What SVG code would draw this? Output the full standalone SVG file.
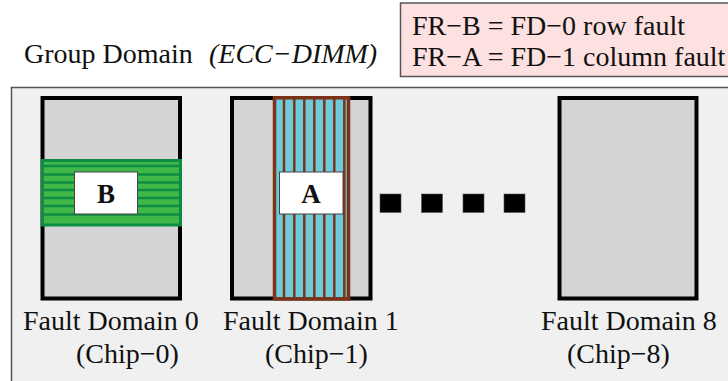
<svg xmlns="http://www.w3.org/2000/svg" width="728" height="381" viewBox="0 0 728 381">
<style>
  text { font-family: "Liberation Serif", "Times New Roman", serif; font-size: 28px; fill: #111; }
  .chip { fill: #d4d4d6; stroke: #000; stroke-width: 4; }
  .lbl { fill: #fff; stroke: #444; stroke-width: 1; }
  .letter { font-weight: bold; font-size: 27px; text-anchor: middle; }
  .dot { fill: #000; stroke: #555; stroke-width: 0.6; }
  .gl { stroke: #0c8d42; stroke-width: 2.5; }
  .bl { stroke: #7c3318; stroke-width: 2.5; }
</style>
<g id="legend">
  <rect x="400.5" y="3" width="340" height="73.5" fill="#fde0e0" stroke="#555" stroke-width="1.5"/>
  <text x="412" y="35">FR−B = FD−0 row fault</text>
  <text x="412" y="66">FR−A = FD−1 column fault</text>
</g>
<g id="group-domain">
  <rect x="11.5" y="87.5" width="730" height="310" fill="#f0f0f0" stroke="#555" stroke-width="1.5"/>
  <text x="24" y="63">Group Domain</text>
  <text x="209" y="63" font-style="italic">(ECC−DIMM)</text>
</g>
<g id="chip0">
  <rect class="chip" x="42.5" y="98" width="137.5" height="200.5"/>
  <rect x="42.5" y="160.5" width="138" height="64.5" fill="#41b649" stroke="#0c8d42" stroke-width="3"/>
  <line class="gl" x1="42" y1="166" x2="181" y2="166"/>
  <line class="gl" x1="42" y1="174.5" x2="181" y2="174.5"/>
  <line class="gl" x1="42" y1="182.5" x2="181" y2="182.5"/>
  <line class="gl" x1="42" y1="190" x2="181" y2="190"/>
  <line class="gl" x1="42" y1="198" x2="181" y2="198"/>
  <line class="gl" x1="42" y1="206" x2="181" y2="206"/>
  <line class="gl" x1="42" y1="214.5" x2="181" y2="214.5"/>
  <rect class="lbl" x="74.5" y="172" width="63" height="42"/>
  <text class="letter" x="106" y="203">B</text>
  <text x="23" y="330">Fault Domain 0</text>
  <text x="76" y="363">(Chip−0)</text>
</g>
<g id="chip1">
  <rect class="chip" x="232" y="98" width="138.5" height="200.5"/>
  <rect x="274.5" y="97.8" width="74" height="201" fill="#6dcbdc" stroke="#7c3318" stroke-width="3.5"/>
  <line class="bl" x1="284" y1="98" x2="284" y2="299"/>
  <line class="bl" x1="294.3" y1="98" x2="294.3" y2="299"/>
  <line class="bl" x1="304.3" y1="98" x2="304.3" y2="299"/>
  <line class="bl" x1="314.3" y1="98" x2="314.3" y2="299"/>
  <line class="bl" x1="324.3" y1="98" x2="324.3" y2="299"/>
  <line class="bl" x1="334.3" y1="98" x2="334.3" y2="299"/>
  <line class="bl" x1="344.3" y1="98" x2="344.3" y2="299"/>
  <rect class="lbl" x="279.5" y="172" width="63.5" height="42"/>
  <text class="letter" x="311" y="203">A</text>
  <text x="223" y="330">Fault Domain 1</text>
  <text x="265" y="363">(Chip−1)</text>
</g>
<g id="ellipsis">
  <rect class="dot" x="380" y="194" width="21" height="18.5"/>
  <rect class="dot" x="421.5" y="194" width="21" height="18.5"/>
  <rect class="dot" x="463" y="194" width="21" height="18.5"/>
  <rect class="dot" x="504" y="194" width="21" height="18.5"/>
</g>
<g id="chip8">
  <rect class="chip" x="559.5" y="98" width="137" height="200.5"/>
  <text x="541" y="330">Fault Domain 8</text>
  <text x="567" y="363">(Chip−8)</text>
</g>
<g id="connectors"/>
</svg>
